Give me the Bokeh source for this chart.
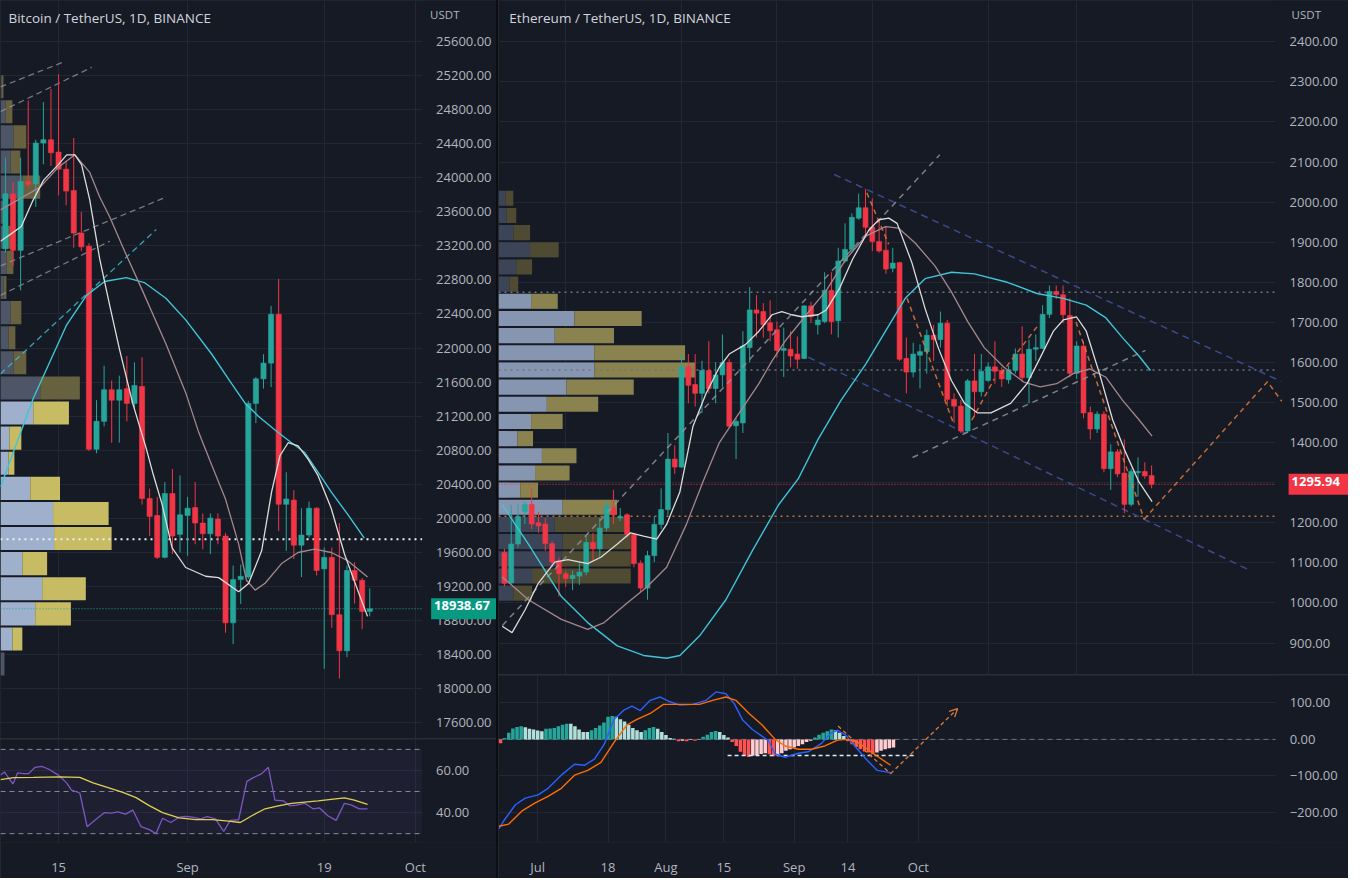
import numpy as np
from bokeh.plotting import figure
from bokeh.models import (Range1d, FixedTicker, NumeralTickFormatter, Label,
                          Arrow, OpenHead, BoxAnnotation)
from bokeh.layouts import row, column
from bokeh.embed import file_html
from bokeh.resources import INLINE

# ======================= DATA =======================
# BTC / USDT daily candles, Aug 8 2022 (index 0) .. Sep 25 2022
btc_open = [23165, 23811, 23147, 23954, 23927, 24408, 24446, 24301, 24100, 23850, 23350, 23196, 20811,
            21139, 21511, 21388, 21523, 21350, 21549, 20234, 20034, 19542, 20291, 19812, 20034, 20127,
            19945, 19819, 19992, 19792, 18773, 19281, 19311, 21350, 21638, 21823, 22396, 20165, 20215,
            19685, 19804, 20119, 19407, 19542, 18869, 18445, 19388, 19273, 18907]
btc_high = [24235, 23946, 24235, 24908, 24446, 24889, 25043, 25216, 24197, 24466, 23600, 23230, 21388,
            21792, 21619, 21676, 21907, 21831, 21892, 20349, 20253, 20427, 20580, 20504, 20253, 20427,
            20058, 20058, 20058, 19830, 19446, 19458, 21380, 21660, 21927, 22496, 22812, 20542, 20331,
            20119, 20197, 20130, 19658, 19658, 19945, 19446, 19484, 19300, 19177]
btc_low = [23119, 22965, 22677, 23889, 23658, 24157, 24139, 23793, 23677, 23177, 23138, 20792, 20765,
           21081, 20888, 20888, 21139, 21272, 20161, 19792, 19523, 19530, 19581, 19599, 19561, 19696,
           19638, 19581, 19696, 18657, 18523, 18996, 19290, 21119, 21523, 21542, 19850, 19619, 19523,
           19311, 19773, 19330, 18235, 18715, 18119, 18369, 19000, 18699, 18849]
btc_close = [23811, 23147, 23958, 23920, 24408, 24446, 24293, 24100, 23843, 23350, 23188, 20811, 21139,
             21511, 21388, 21511, 21350, 21561, 20234, 20023, 19542, 20291, 19792, 20042, 20119, 19945,
             19819, 20003, 19792, 18773, 19281, 19320, 21350, 21638, 21823, 22396, 20165, 20227, 19685,
             19804, 20119, 19388, 19542, 18869, 18445, 19388, 19273, 18907, 18938.67]
btc_last = 18938.67
btc_poc = 19754
btc_date_ticks = [7, 24, 42, 54]
btc_date_labels = ["15", "Sep", "19", "Oct"]

# BTC moving averages (index, price)
btc_fast_x = [-0.65, 0.65, 2.09, 3.53, 5.01, 6.97, 8.07, 9.15, 10.03, 11.11, 12.42, 13.73, 15.03, 16.77,
              18.52, 19.39, 20.65, 21.96, 23.75, 26.37, 28.10, 29.84, 30.72, 32.03, 33.76, 35.07, 36.17,
              37.25, 38.56, 39.87, 41.18, 42.92, 44.67, 46.41, 47.71]
btc_fast_y = [23254, 23335, 23427, 23716, 23969, 24154, 24269, 24269, 24154, 23739, 23046, 22504, 21984,
              21350, 20831, 20542, 20161, 19653, 19423, 19320, 19304, 19195, 19138, 19234, 19619, 20311,
              20735, 20888, 20850, 20696, 20504, 20119, 19581, 19157, 18849]
btc_mid_x = [-0.65, 4.58, 6.93, 9.15, 11.11, 12.42, 13.73, 15.69, 18.04, 21.18, 23.79, 25.49, 27.19,
             28.98, 30.72, 31.76, 32.90, 34.21, 36.38, 38.56, 40.75, 42.92, 45.10, 47.71]
btc_mid_y = [23623, 23889, 24119, 24269, 24062, 23773, 23542, 23139, 22677, 22042, 21465, 21004, 20623,
             20230, 19700, 19273, 19157, 19238, 19469, 19599, 19639, 19599, 19503, 19311]
btc_slow_x = [-0.65, 3.66, 8.07, 10.68, 13.07, 15.91, 18.30, 21.14, 23.75, 27.19, 29.80, 31.59, 33.33,
              35.52, 37.69, 39.44, 41.18, 42.92, 45.10, 47.28]
btc_slow_y = [20369, 21408, 22273, 22619, 22781, 22827, 22769, 22585, 22331, 21927, 21581, 21350, 21200,
              21038, 20888, 20773, 20542, 20311, 20046, 19769]

# BTC RSI and its moving average
rsi_x = [-0.65, -0.13, 0.44, 1.0, 1.61, 2.4, 3.05, 3.92, 4.79, 5.66, 6.97, 8.06, 8.71, 9.80, 10.76,
         11.98, 13.07, 13.94, 14.81, 15.82, 16.78, 17.87, 18.95, 19.83, 20.70, 21.79, 22.88, 23.75,
         24.62, 25.71, 26.58, 27.67, 28.76, 29.63, 30.72, 31.81, 32.68, 33.77, 34.64, 35.51, 36.60,
         37.47, 38.34, 39.43, 40.52, 41.39, 42.48, 43.57, 44.66, 45.53, 46.62, 47.71]
rsi_y = [57.8, 59.3, 56.3, 53.6, 58.9, 58.5, 58.5, 61.5, 61.9, 60.7, 57.8, 54.1, 50.7, 49.3, 33.3,
         37.0, 40.0, 39.7, 40.3, 39.3, 41.2, 33.3, 31.9, 30.0, 37.3, 35.3, 37.8, 38.2, 37.8, 37.0,
         38.1, 37.0, 31.1, 36.3, 36.6, 54.8, 56.6, 58.5, 61.5, 45.9, 45.6, 43.2, 43.5, 44.4, 41.8,
         42.2, 38.5, 36.3, 44.4, 43.7, 41.8, 41.8]
rsi_ma_x = [-0.65, 1.09, 3.70, 7.19, 9.80, 11.55, 13.73, 15.47, 17.21, 18.95, 20.70, 22.88, 25.06,
            27.24, 29.41, 30.94, 32.46, 34.21, 35.95, 37.69, 39.43, 41.18, 42.92, 44.66, 45.97, 47.71]
rsi_ma_y = [55.6, 56.6, 56.7, 57.0, 56.7, 54.1, 51.6, 49.6, 47.1, 43.3, 40.0, 37.5, 36.7, 36.7, 35.9,
            35.3, 38.5, 41.8, 43.2, 44.4, 45.0, 45.6, 46.3, 47.0, 45.9, 43.9]
rsi_levels = [70, 50, 30]

# BTC visible-range volume profile (rows top -> bottom)
btc_vp_high, btc_vp_low = 25216, 18142
btc_vp_total = [3, 12, 26, 20, 40, 6, 13, 13, 6, 21, 15, 26, 80, 69, 21, 14, 60, 109, 112, 47, 86, 71, 22, 4]
btc_vp_up = [1, 5, 13, 10, 22, 3, 6, 6, 3, 10, 8, 13, 40, 33, 9, 8, 30, 53, 54, 22, 42, 35, 12, 4]
btc_vp_value_area = (13, 22)

# BTC trend lines (index, price)
btc_gray_lines = [([-0.65, 7.84], [25066, 25366]), ([-0.65, 11.37], [24777, 25296]),
                  ([-0.65, 21.18], [22965, 23773]), ([-0.65, 13.73], [22619, 23254])]
btc_cyan_line = ([-0.65, 19.87], [21696, 23392])

# ETH / USDT daily candles, Jun 22 2022 (index 0) .. Sep 25 2022
eth_open = [1126, 1050, 1147, 1228, 1246, 1200, 1197, 1148, 1106, 1073, 1061, 1067, 1077, 1151, 1135, 1187,
            1237, 1212, 1220, 1171, 1099, 1037, 1118, 1196, 1233, 1359, 1339, 1589, 1545, 1523, 1580, 1535,
            1569, 1600, 1442, 1449, 1637, 1731, 1727, 1699, 1682, 1630, 1633, 1621, 1610, 1741, 1694, 1702,
            1780, 1704, 1853, 1882, 1960, 1986, 1937, 1902, 1880, 1835, 1849, 1610, 1576, 1618, 1627, 1668,
            1657, 1698, 1508, 1491, 1429, 1554, 1527, 1555, 1589, 1580, 1557, 1580, 1621, 1562, 1633, 1635,
            1720, 1777, 1769, 1717, 1573, 1641, 1475, 1434, 1471, 1335, 1377, 1324, 1246, 1325, 1328, 1318]
eth_high = [1135, 1245, 1246, 1253, 1285, 1228, 1211, 1155, 1114, 1081, 1081, 1102, 1167, 1175, 1212, 1257,
            1282, 1237, 1224, 1175, 1106, 1130, 1216, 1286, 1424, 1393, 1621, 1621, 1621, 1604, 1653, 1601,
            1670, 1608, 1461, 1678, 1788, 1768, 1748, 1755, 1702, 1687, 1678, 1665, 1743, 1751, 1719, 1825,
            1825, 1886, 1947, 1972, 2021, 2033, 2009, 1956, 1939, 1886, 1851, 1662, 1649, 1645, 1682, 1694,
            1727, 1706, 1523, 1506, 1559, 1621, 1621, 1600, 1653, 1588, 1592, 1635, 1690, 1657, 1670, 1743,
            1792, 1792, 1792, 1760, 1653, 1653, 1490, 1478, 1478, 1396, 1384, 1408, 1335, 1363, 1351, 1343]
eth_low = [1042, 1048, 1138, 1197, 1184, 1175, 1130, 1089, 1016, 1040, 1032, 1045, 1069, 1106, 1114, 1179,
           1197, 1204, 1163, 1089, 1028, 1008, 1102, 1184, 1220, 1322, 1337, 1498, 1490, 1474, 1523, 1498,
           1539, 1437, 1359, 1424, 1600, 1662, 1662, 1653, 1612, 1564, 1588, 1584, 1608, 1698, 1670, 1698,
           1670, 1662, 1849, 1874, 1956, 1911, 1878, 1874, 1821, 1825, 1604, 1523, 1563, 1535, 1572, 1604,
           1637, 1490, 1449, 1424, 1424, 1465, 1515, 1551, 1547, 1539, 1547, 1572, 1551, 1498, 1604, 1633,
           1711, 1758, 1698, 1563, 1559, 1461, 1408, 1424, 1326, 1282, 1314, 1224, 1241, 1265, 1310, 1286]
eth_close = [1049, 1147, 1216, 1246, 1197, 1192, 1148, 1102, 1073, 1061, 1069, 1077, 1151, 1135, 1187, 1241,
             1220, 1216, 1171, 1098, 1037, 1118, 1196, 1233, 1359, 1339, 1589, 1543, 1523, 1580, 1535, 1569,
             1600, 1441, 1453, 1641, 1731, 1723, 1694, 1679, 1630, 1635, 1616, 1608, 1741, 1714, 1706, 1780,
             1702, 1853, 1882, 1962, 1986, 1937, 1902, 1878, 1833, 1848, 1608, 1576, 1621, 1627, 1668, 1657,
             1698, 1508, 1491, 1429, 1554, 1527, 1578, 1589, 1578, 1559, 1581, 1621, 1562, 1633, 1637, 1720,
             1777, 1769, 1719, 1573, 1641, 1474, 1434, 1471, 1335, 1377, 1322, 1246, 1328, 1328, 1317, 1295.94]
eth_last = 1295.94
eth_date_ticks = [9, 26, 40, 54, 71, 84, 101]
eth_date_labels = ["Jul", "18", "Aug", "15", "Sep", "14", "Oct"]

eth_fast_x = [-0.33, 1.12, 3.04, 4.97, 7.39, 9.32, 12.22, 14.16, 16.57, 18.51, 20.43, 22.36, 23.81, 25.75,
              27.68, 29.61, 31.55, 33.0, 35.41, 37.35, 39.28, 40.72, 42.17, 43.62, 46.04, 47.25, 49.17,
              51.12, 53.52, 54.97, 56.42, 57.64, 59.81, 61.74, 63.67, 65.61, 67.54, 69.46, 71.41, 74.30,
              76.71, 78.65, 80.58, 82.03, 83.96, 85.41, 87.35, 89.28, 91.20, 93.14, 95.07]
eth_fast_y = [942, 926, 983, 1049, 1102, 1108, 1098, 1114, 1147, 1175, 1167, 1159, 1196, 1277, 1441, 1523,
              1588, 1621, 1645, 1678, 1719, 1727, 1719, 1714, 1719, 1731, 1784, 1858, 1931, 1956, 1960,
              1947, 1849, 1735, 1637, 1555, 1498, 1474, 1474, 1498, 1547, 1612, 1678, 1706, 1714, 1678,
              1572, 1457, 1375, 1302, 1253]
eth_mid_x = [-0.33, 3.52, 8.36, 12.22, 14.64, 18.01, 20.91, 23.81, 26.71, 29.13, 31.55, 33.48, 35.41,
             37.35, 39.28, 41.20, 43.14, 45.07, 47.25, 50.14, 53.04, 55.94, 57.87, 60.29, 63.19, 65.61,
             68.01, 70.43, 73.33, 76.23, 78.65, 81.06, 83.48, 85.90, 88.30, 90.72, 93.14, 95.07]
eth_mid_y = [1065, 1008, 959, 934, 951, 1000, 1040, 1089, 1196, 1302, 1400, 1449, 1498, 1547, 1604, 1653,
             1694, 1735, 1780, 1858, 1915, 1939, 1935, 1898, 1841, 1776, 1702, 1637, 1588, 1551, 1539,
             1547, 1572, 1584, 1563, 1506, 1457, 1416]
eth_slow_x = [-0.33, 3.52, 8.36, 12.22, 16.57, 20.43, 23.81, 25.75, 28.65, 32.51, 36.38, 40.25, 43.14,
              46.04, 49.42, 53.04, 55.94, 58.84, 61.74, 65.61, 68.99, 73.81, 78.16, 82.03, 85.41, 88.30,
              90.72, 93.14, 94.83]
eth_slow_y = [1245, 1147, 1016, 951, 893, 869, 862, 869, 918, 1008, 1130, 1245, 1310, 1408, 1506, 1596,
              1678, 1760, 1809, 1825, 1821, 1800, 1772, 1760, 1743, 1711, 1662, 1616, 1580]

# ETH volume profile (rows top -> bottom)
eth_vp_high, eth_vp_low = 2031, 1003
eth_vp_total = [15, 18, 32, 61, 34, 20, 60, 145, 117, 189, 199, 137, 101, 65, 35, 79, 72, 40, 120, 129,
                134, 134, 134, 34]
eth_vp_up = [7, 8, 15, 32, 18, 11, 33, 77, 57, 97, 97, 69, 49, 33, 19, 44, 37, 22, 65, 57, 65, 64, 34, 15]
eth_vp_value_area = (6, 18)

# ETH drawings (index, price)
eth_gray_lines = [([-0.29, 63.9], [944, 2118]), ([59.9, 94.1], [1363, 1630])]
eth_navy_lines = [([48.4, 114.0], [2069, 1553]), ([44.6, 109.1], [1613, 1084])]
eth_orange_paths = [([53.2, 56.4], [2023, 1895]), ([59.1, 65.9], [1760, 1449]),
                    ([68.6, 71.9], [1456, 1559]), ([72.9, 78.4], [1572, 1694]),
                    ([83.9, 93.9], [1701, 1209]), ([93.9, 112.0, 114.1], [1209, 1552, 1503])]
eth_gray_levels = [1775, 1581]
eth_orange_level = 1216

# ETH MACD
macd_hist = [-10.7, 4, 18, 30, 34, 36, 33, 29, 27, 24,
             22, 29, 30, 31, 36, 40, 43, 43, 36, 27,
             20, 20, 25, 31, 38, 46, 62, 64, 62, 55,
             49, 40, 31, 25, 20, 25, 31, 34, 29, 20,
             12, 4, 2, -5, -4, -5, -2, -4, -1, 7,
             13, 20, 23, 20, 12, 5, -7, -18, -34, -45,
             -48, -45, -43, -40, -38, -41, -46, -43, -38, -31,
             -27, -22, -18, -13, -7, -4, 5, 13, 18, 22,
             27, 25, 18, 9, -5, -13, -21, -27, -33, -36,
             -41, -36, -31, -27, -24, -22]
macd_x = [-0.4, 0.8, 3.6, 6.0, 9.1, 11.5, 14.7, 17.9, 20.3, 22.7, 25.1, 27.4, 29.8, 31.8, 33.8, 36.2,
          38.6, 41.0, 43.4, 46.5, 49.7, 52.1, 54.5, 56.5, 58.5, 60.9, 63.2, 64.8, 66.4, 68.8, 72.0, 74.4,
          77.6, 80.0, 81.5, 83.5, 86.3, 88.7, 91.1, 94.3]
macd_y = [-245, -223, -179, -161, -152, -134, -98, -68, -71, -54, -13, 54, 80, 91, 79, 107, 116, 103,
          94, 96, 107, 130, 125, 98, 54, 27, 9, -4, -40, -49, -38, -34, -11, 18, 25, 11, -27, -58, -85, -91]
signal_x = [-0.4, 2.0, 5.2, 8.4, 11.5, 14.7, 17.9, 21.1, 24.3, 27.4, 30.6, 33.0, 36.2, 39.4, 43.4, 48.1,
            51.3, 54.5, 56.9, 60.1, 63.2, 66.4, 68.8, 72.0, 75.2, 78.4, 81.5, 83.9, 86.3, 90.3, 94.3]
signal_y = [-238, -232, -196, -174, -156, -134, -98, -85, -63, -9, 40, 55, 71, 96, 96, 96, 107, 116, 107,
            71, 40, 0, -18, -27, -27, -18, -2, 0, -7, -40, -71]
macd_white_level = ([54.9, 100.2], -44)
macd_orange_down = ([81.6, 94.3], [36.6, -94])
macd_orange_arrow = ((94.3, -94), (110.5, 84))

# ======================= STYLE =======================
BG = "#161a25"
GRID = "#232734"
TXT = "#b2b5be"
TITLE = "#d1d4dc"
UP = "#26a69a"
DN = "#f23645"
FONT = "Open Sans"
MA_W = "#dcdcdc"
MA_P = "#a3878d"
MA_C = "#3fc5d8"
ORANGE = "#e0793a"

# x extents: (left edge, price-scale boundary, right edge) in bar-index units
BTC_X = (-0.65, 54.9, 64.7)
ETH_X = (-0.87, 113.2, 123.9)
MACD_X = (-0.48, 187.4, 205.0)


def mk(w, h, xs, yr, bottom=0):
    p = figure(width=w, height=h, x_range=Range1d(xs[0], xs[2]), y_range=Range1d(*yr),
               y_axis_location="right", toolbar_location=None, output_backend="svg",
               min_border_left=0, min_border_right=0, min_border_top=0, min_border_bottom=bottom)
    p.background_fill_color = BG
    p.border_fill_color = BG
    p.outline_line_color = None
    p.xgrid.grid_line_color = GRID
    p.ygrid.grid_line_color = GRID
    # price-scale area (covers grid lines to the right of the boundary)
    p.add_layout(BoxAnnotation(left=xs[1], fill_color=BG, fill_alpha=1.0, line_color=None,
                               level="underlay"))
    return p


def style_y(p, xs, ticks, overrides=None):
    ax = p.yaxis[0]
    ax.fixed_location = xs[1]
    ax.ticker = FixedTicker(ticks=ticks)
    ax.formatter = NumeralTickFormatter(format="0.00")
    if overrides:
        ax.major_label_overrides = overrides
    ax.axis_line_color = None
    ax.major_tick_line_color = None
    ax.minor_tick_line_color = None
    ax.major_label_text_color = TXT
    ax.major_label_text_font = FONT
    ax.major_label_text_font_size = "13px"
    ax.major_label_standoff = 8


def style_x(p, ticks, labels, visible):
    ax = p.xaxis[0]
    ax.ticker = FixedTicker(ticks=ticks)
    p.xgrid.ticker = FixedTicker(ticks=ticks)
    ax.major_label_overrides = {t: s for t, s in zip(ticks, labels)}
    ax.axis_line_color = None
    ax.major_tick_line_color = None
    ax.minor_tick_line_color = None
    ax.major_label_text_color = TXT
    ax.major_label_text_font = FONT
    ax.major_label_text_font_size = "13px"
    ax.major_label_standoff = 9
    ax.visible = visible


def hline(p, xs, level, **kw):
    p.line([xs[0], xs[1]], [level, level], **kw)


def candles(p, o, h, l, c, width):
    o = np.array(o, dtype=float)
    c = np.array(c, dtype=float)
    x = np.arange(len(o))
    col = [UP if cc >= oo else DN for oo, cc in zip(o, c)]
    p.segment(x0=x, y0=l, x1=x, y1=h, line_color=col, line_width=1)
    p.vbar(x=x, width=width, top=np.maximum(o, c), bottom=np.minimum(o, c),
           fill_color=col, line_color=col, line_width=0.6)


def profile(p, hi, lo, up, tot, va, span, colors, hfrac):
    n = len(tot)
    step = (hi - lo) / n
    centers = hi - (np.arange(n) + 0.5) * step
    p.extra_x_ranges = {"vp": Range1d(0, span)}
    inside = [va[0] <= i <= va[1] for i in range(n)]
    c1 = [colors[0] if f else colors[2] for f in inside]
    c2 = [colors[1] if f else colors[3] for f in inside]
    p.hbar(y=centers, left=0, right=up, height=step * hfrac, fill_color=c1,
           line_color=None, x_range_name="vp")
    p.hbar(y=centers, left=up, right=tot, height=step * hfrac, fill_color=c2,
           line_color=None, x_range_name="vp")


def text_label(p, x, y, text, color, size, bold=False, bg=None, x_offset=0):
    kw = dict(x=x, y=y, text=text, text_color=color, text_font=FONT, text_font_size=size,
              text_baseline="middle", text_align="left", x_offset=x_offset,
              text_font_style="bold" if bold else "normal")
    if bg:
        kw.update(background_fill_color=bg, background_fill_alpha=1.0, padding=(3, 10, 3, 9))
    p.add_layout(Label(**kw))


# ======================= BTC MAIN =======================
btc = mk(496, 738, BTC_X, (17415, 26081))
style_y(btc, BTC_X, list(range(17600, 25601, 400)))
style_x(btc, btc_date_ticks, btc_date_labels, False)
profile(btc, btc_vp_high, btc_vp_low, btc_vp_up, btc_vp_total, btc_vp_value_area, 500,
        ["#9fb0cc", "#c7bc64", "#4d5567", "#67613f"], 0.92)
for xs, ys in btc_gray_lines:
    btc.line(xs, ys, line_color="#9598a1", line_width=1.3, line_dash="6 4", line_alpha=0.75)
btc.line(btc_cyan_line[0], btc_cyan_line[1], line_color=MA_C, line_width=1.3, line_dash="6 4", line_alpha=0.8)
hline(btc, BTC_X, btc_poc, line_color="#f0f0f0", line_width=2, line_dash="2 4")
hline(btc, BTC_X, btc_last, line_color="#26a69a", line_width=1, line_dash="1 2")
candles(btc, btc_open, btc_high, btc_low, btc_close, 0.68)
btc.line(btc_slow_x, btc_slow_y, line_color=MA_C, line_width=1.4)
btc.line(btc_mid_x, btc_mid_y, line_color=MA_P, line_width=1.3)
btc.line(btc_fast_x, btc_fast_y, line_color=MA_W, line_width=1.3)
text_label(btc, 0.4, 25873, "Bitcoin / TetherUS, 1D, BINANCE", TITLE, "13.5px")
text_label(btc, BTC_X[1], 25920, "USDT", TXT, "11.5px", x_offset=8)
text_label(btc, BTC_X[1], btc_last, "18938.67", "#ffffff", "13px", bold=True, bg="#089981", x_offset=9)

# ======================= BTC RSI =======================
rsi = mk(496, 139, BTC_X, (25.8, 74.7), bottom=30)
style_y(rsi, BTC_X, [40, 60])
style_x(rsi, btc_date_ticks, btc_date_labels, True)
rsi.add_layout(BoxAnnotation(left=BTC_X[0], right=BTC_X[1], bottom=30, top=70, fill_color="#7e57c2",
                             fill_alpha=0.09, line_color=None))
for lv in rsi_levels:
    hline(rsi, BTC_X, lv, line_color="#8a8d99", line_width=1, line_dash="5 4")
rsi.line(rsi_x, rsi_y, line_color="#7e57c2", line_width=1.3)
rsi.line(rsi_ma_x, rsi_ma_y, line_color="#e9dc4a", line_width=1.3)

# ======================= ETH MAIN =======================
eth = mk(850, 674, ETH_X, (821.5, 2503))
style_y(eth, ETH_X, list(range(900, 2401, 100)))
style_x(eth, eth_date_ticks, eth_date_labels, False)
profile(eth, eth_vp_high, eth_vp_low, eth_vp_up, eth_vp_total, eth_vp_value_area, 861,
        ["#8796b0", "#8a834f", "#3c4457", "#4f4b32"], 0.88)
for lv in eth_gray_levels:
    hline(eth, ETH_X, lv, line_color="#6f7280", line_width=1.5, line_dash="2 4")
hline(eth, ETH_X, eth_orange_level, line_color="#b8703f", line_width=1.5, line_dash="2 4")
hline(eth, ETH_X, eth_last, line_color="#f23645", line_width=1, line_dash="1 2")
for xs, ys in eth_navy_lines:
    eth.line(xs, ys, line_color="#3b4a8c", line_width=1.5, line_dash="7 5")
candles(eth, eth_open, eth_high, eth_low, eth_close, 0.72)
for xs, ys in eth_gray_lines:
    eth.line(xs, ys, line_color="#9598a1", line_width=1.5, line_dash="6 5", line_alpha=0.8)
for xs, ys in eth_orange_paths:
    eth.line(xs, ys, line_color=ORANGE, line_width=1.5, line_dash="5 4", line_alpha=0.85)
eth.line(eth_slow_x, eth_slow_y, line_color=MA_C, line_width=1.4)
eth.line(eth_mid_x, eth_mid_y, line_color=MA_P, line_width=1.3)
eth.line(eth_fast_x, eth_fast_y, line_color=MA_W, line_width=1.3)
text_label(eth, 0.72, 2459, "Ethereum / TetherUS, 1D, BINANCE", TITLE, "13.5px")
text_label(eth, ETH_X[1], 2469, "USDT", TXT, "11.5px", x_offset=16)
text_label(eth, ETH_X[1], eth_last, "1295.94", "#ffffff", "13px", bold=True, bg="#f23645", x_offset=13)

# ======================= ETH MACD =======================
macd = mk(850, 203, MACD_X, (-282.5, 175), bottom=30)
style_y(macd, MACD_X, [100, 0, -100, -200],
        {100: "100.00", 0: "0.00", -100: "\u2212100.00", -200: "\u2212200.00"})
style_x(macd, eth_date_ticks, eth_date_labels, True)
hline(macd, MACD_X, 0, line_color="#6f7280", line_width=1, line_dash="5 4")
hcol = []
for i, h in enumerate(macd_hist):
    prev = macd_hist[i - 1] if i > 0 else 0
    if h >= 0:
        hcol.append("#26a69a" if h > prev else "#b2dfdb")
    else:
        hcol.append("#ff5252" if h < prev else "#ffcdd2")
macd.vbar(x=np.arange(len(macd_hist)), width=0.85, top=macd_hist, bottom=0, fill_color=hcol,
          line_color=None)
macd.line(macd_white_level[0], [macd_white_level[1]] * 2, line_color="#d6f0f5", line_width=1.5,
          line_dash="4 3")
macd.line(macd_x, macd_y, line_color="#2962ff", line_width=1.4)
macd.line(signal_x, signal_y, line_color="#ff6d00", line_width=1.4)
macd.line(macd_orange_down[0], macd_orange_down[1], line_color=ORANGE, line_width=1.3, line_dash="4 3")
(ax0, ay0), (ax1, ay1) = macd_orange_arrow
macd.add_layout(Arrow(end=OpenHead(size=8, line_color=ORANGE, line_width=1.3),
                      x_start=ax0, y_start=ay0, x_end=ax1, y_end=ay1,
                      line_color=ORANGE, line_width=1.3, line_dash="4 3"))

# ======================= LAYOUT =======================
left = column(btc, rsi, spacing=1, styles={"background-color": "#2a2e39"})
right = column(eth, macd, spacing=1, styles={"background-color": "#2a2e39"})
layout = row(left, right, spacing=2, styles={"background-color": "#0c0e13"})

open("out.html", "w").write(file_html(layout, INLINE, "BTC / ETH"))
